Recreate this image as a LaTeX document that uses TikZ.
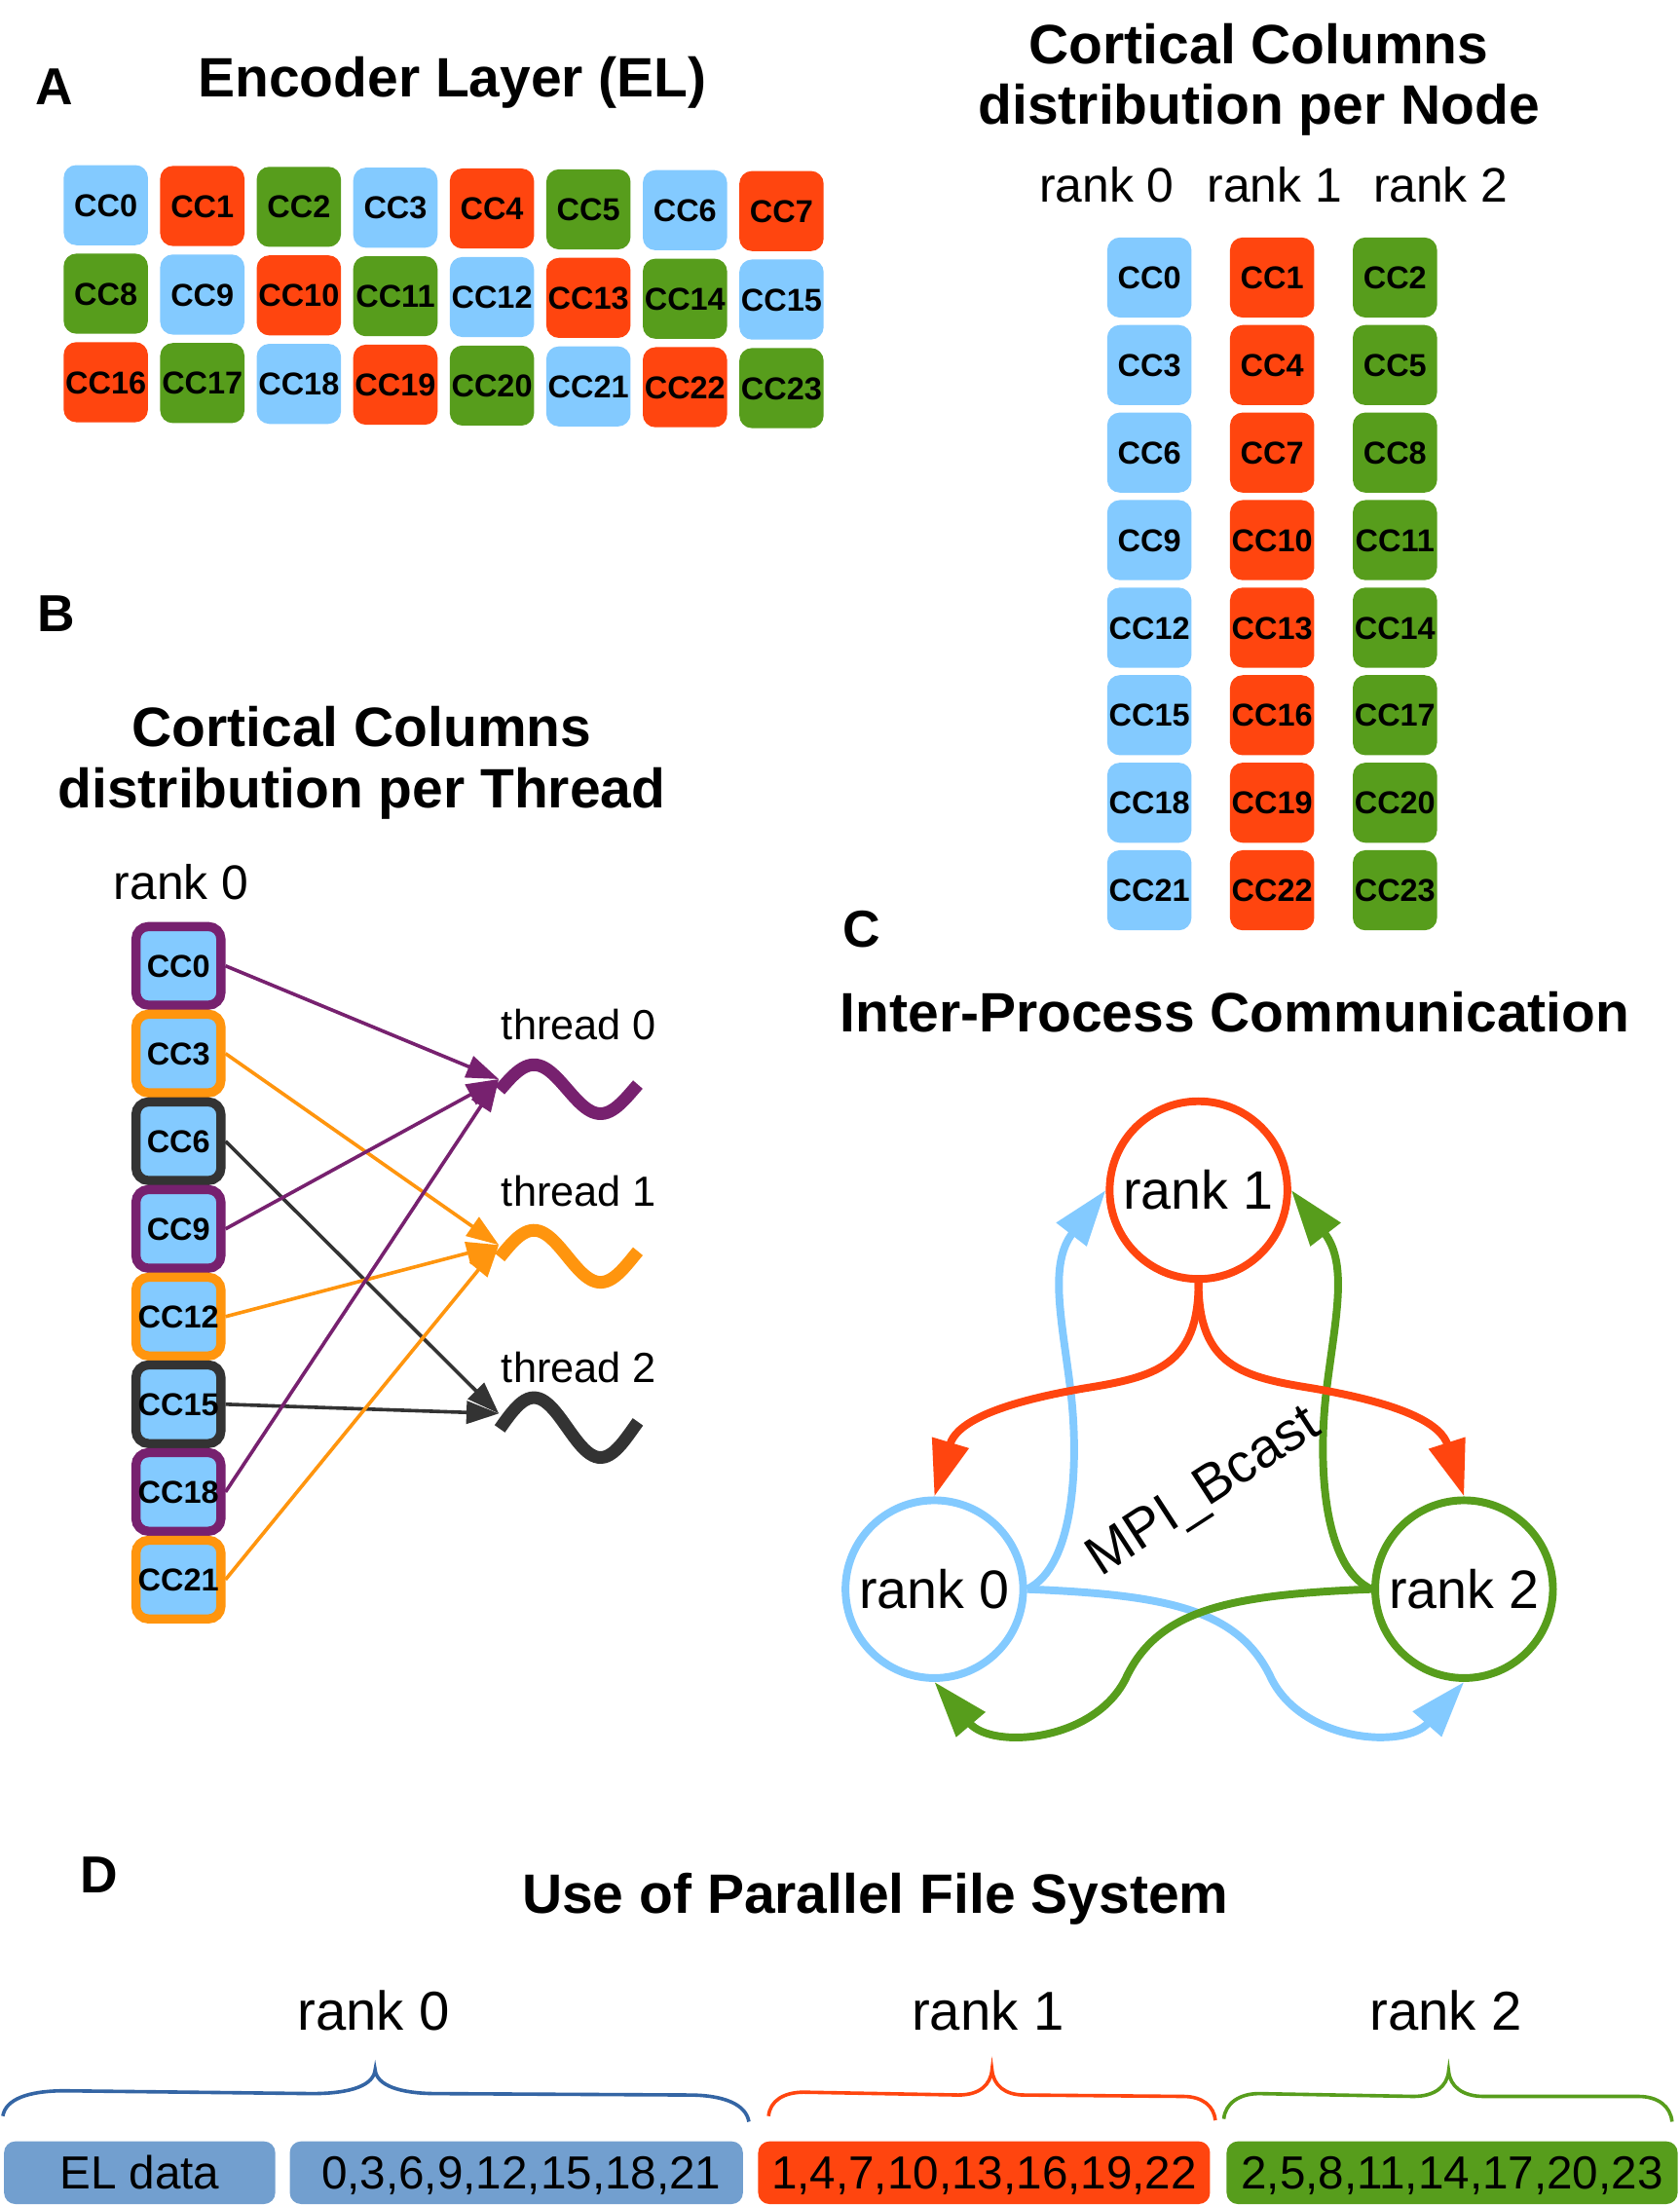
\documentclass[tikz,border=0pt]{standalone}
\usepackage{fontspec}
\setmainfont{Liberation Sans}
\usetikzlibrary{arrows.meta}
\definecolor{ccblue}{RGB}{131,202,255}
\definecolor{ccred}{RGB}{255,69,15}
\definecolor{ccgreen}{RGB}{87,157,28}
\colorlet{ccc0}{ccblue}
\colorlet{ccc1}{ccred}
\colorlet{ccc2}{ccgreen}
\definecolor{thpurple}{RGB}{119,33,111}
\definecolor{thorange}{RGB}{255,149,14}
\definecolor{thdark}{RGB}{51,51,51}
\definecolor{dblue}{RGB}{114,159,207}
\definecolor{bracebl}{RGB}{52,101,164}
\tikzset{
  ttl/.style={font=\fontsize{39.5}{44}\selectfont\bfseries, inner sep=0pt, text height=28.3pt, text depth=0pt},
  panel/.style={font=\fontsize{37}{42}\selectfont\bfseries, inner sep=0pt, text height=26.5pt, text depth=0pt},
  rk/.style={font=\fontsize{34.5}{40}\selectfont, inner sep=0pt, text height=24.7pt, text depth=0pt},
  rkd/.style={font=\fontsize{39}{44}\selectfont, inner sep=0pt, text height=27.9pt, text depth=0pt},
  thl/.style={font=\fontsize{30}{34}\selectfont, inner sep=0pt, text height=21.5pt, text depth=0pt},
  ccbox/.style={rounded corners=9pt, minimum width=60pt, minimum height=57pt, inner sep=0pt,
    font=\fontsize{22.5}{25}\selectfont\bfseries, text height=16.1pt, text depth=0pt},
  bbox/.style={rounded corners=9pt, minimum width=60.5pt, minimum height=56pt, inner sep=0pt,
    line width=6.5pt, fill=ccblue,
    font=\fontsize{22.5}{26}\selectfont\bfseries, text height=16.1pt, text depth=0pt},
  barrow/.style={line width=2.5pt, -{Triangle[length=23pt,width=16pt]}},
  wave/.style={line width=9pt},
  rcirc/.style={circle, line width=5.5pt, minimum size=126.5pt, inner sep=0pt,
    font=\fontsize{38.5}{44}\selectfont, text height=27.6pt, text depth=0pt},
  carrow/.style={line width=5.5pt, -{Triangle[length=40pt,width=26pt]}},
  dbox/.style={rounded corners=8pt, minimum height=44.6pt, inner sep=0pt,
    font=\fontsize{33}{38}\selectfont, text height=23.6pt, text depth=0pt},
  brc/.style={line width=2.5pt},
}
\begin{document}
\begin{tikzpicture}[x=1pt,y=-1pt]
\useasboundingbox (0,0) rectangle (1195,1569.3);
\fill[white] (0,0) rectangle (1195,1569.3);

% ---------- Panel A ----------
\node[panel] (la) at (39,61) {A};
\node[ttl] (tA) at (322,55) {Encoder Layer (EL)};
\foreach \i in {0,...,23} {
  \pgfmathtruncatemacro\cl{mod(\i,8)}
  \pgfmathtruncatemacro\rw{div(\i,8)}
  \pgfmathtruncatemacro\kk{mod(\i,3)}
  \node[ccbox, fill=ccc\kk] (a\i) at ({75.3+68.7*\cl},{146+63*\rw+0.6*\cl}) {CC\i};
}

% ---------- Node distribution ----------
\node[ttl] (tN1) at (896,31) {Cortical Columns};
\node[ttl] (tN2) at (896,74) {distribution per Node};
\node[rk] (nr0) at (787.6,131.6) {rank 0};
\node[rk] (nr1) at (907.2,131.6) {rank 1};
\node[rk] (nr2) at (1025.3,131.6) {rank 2};
\foreach \i in {0,...,23} {
  \pgfmathtruncatemacro\cl{mod(\i,3)}
  \pgfmathtruncatemacro\rw{div(\i,3)}
  \node[ccbox, fill=ccc\cl] (n\i) at ({818+87.4*\cl},{197.5+62.3*\rw}) {CC\i};
}

% ---------- Panel B ----------
\node[panel] (lb) at (40,436) {B};
\node[ttl] (tB1) at (257.5,517) {Cortical Columns};
\node[ttl] (tB2) at (257.5,561) {distribution per Thread};
\node[rk] (br) at (129,627.5) {rank 0};
\coordinate (t0) at (355,768);
\coordinate (t1) at (355,886);
\coordinate (t2) at (355,1006);
\foreach \cc/\bc [count=\j from 0] in {0/thpurple,3/thorange,6/thdark,9/thpurple,12/thorange,15/thdark,18/thpurple,21/thorange} {
  \node[bbox, draw=\bc] (b\cc) at (127,{687.4+62.4*\j}) {CC\cc};
}
\foreach \cc/\bc [count=\j from 0] in {0/thpurple,3/thorange,6/thdark,9/thpurple,12/thorange,15/thdark,18/thpurple,21/thorange} {
  \pgfmathtruncatemacro\th{mod(\j,3)}
  \draw[barrow, color=\bc] (b\cc.east) -- (t\th);
}
\foreach \wy/\amp/\col in {775.2/17.4/thpurple, 894.1/18.5/thorange, 1016/21.3/thdark} {
  \draw[wave, color=\col] plot[smooth, domain=355.7:454, samples=50] (\x,{\wy-\amp*sin((\x-356.3)*3.7975)});
}
\node[thl] (th0) at (412,729) {thread 0};
\node[thl] (th1) at (412,848) {thread 1};
\node[thl] (th2) at (412,973) {thread 2};

% ---------- Panel C ----------
\node[panel] (lc) at (613,661) {C};
\node[ttl] (tC) at (879,720) {Inter-Process Communication};
\node[rcirc, draw=ccred] (r1) at (853,847) {rank 1};
\node[rcirc, draw=ccblue] (r0) at (665,1131) {rank 0};
\node[rcirc, draw=ccgreen] (r2) at (1042,1131) {rank 2};
\draw[carrow, ccblue] (r0.east) .. controls (765,1115) and (768,1040) .. (762,990)
   .. controls (756,940) and (746,900) .. (r1.west);
\draw[carrow, ccblue] (r0.east) .. controls (830,1135) and (882,1145) .. (905,1195)
   .. controls (928,1240) and (1000,1245) .. (r2.south);
\draw[carrow, ccgreen] (r2.west) .. controls (941,1115) and (938,1040) .. (944,990)
   .. controls (950,940) and (960,900) .. (r1.east);
\draw[carrow, ccgreen] (r2.west) .. controls (876,1135) and (824,1145) .. (801,1195)
   .. controls (778,1240) and (706,1245) .. (r0.south);
\draw[carrow, ccred] (r1.south) .. controls (853,972) and (822,980) .. (772,988)
   .. controls (702,1000) and (680,1015) .. (r0.north);
\draw[carrow, ccred] (r1.south) .. controls (853,972) and (884,980) .. (934,988)
   .. controls (1004,1000) and (1026,1015) .. (r2.north);
\node[font=\fontsize{39}{44}\selectfont, inner sep=0pt, text height=27.9pt, text depth=0pt, rotate=33] (mpi) at (854.9,1059.3) {MPI\_Bcast};

% ---------- Panel D ----------
\node[panel] (ld) at (70.6,1334) {D};
\node[ttl] (tD) at (623,1347.5) {Use of Parallel File System};
\node[rkd] (dr0) at (266,1431) {rank 0};
\node[rkd] (dr1) at (703,1431) {rank 1};
\node[rkd] (dr2) at (1029,1431) {rank 2};
\draw[brc, bracebl] (2,1506) .. controls (4,1494) and (20,1488) .. (46,1488) -- (222,1490)
   .. controls (250,1490) and (266,1484) .. (267,1473) .. controls (268,1484) and (284,1490) .. (311,1490)
   -- (490,1491) .. controls (516,1491) and (531,1498) .. (533,1510);
\draw[brc, ccred] (547,1506) .. controls (548,1495) and (558,1489) .. (572,1489) -- (682,1491)
   .. controls (697,1491) and (705,1484) .. (706,1473) .. controls (707,1484) and (715,1491) .. (729,1491)
   -- (842,1492) .. controls (856,1492) and (864,1499) .. (865,1509);
\draw[brc, ccgreen] (871,1508) .. controls (872,1497) and (882,1490) .. (896,1490) -- (1006,1492)
   .. controls (1021,1492) and (1030,1485) .. (1031,1474) .. controls (1032,1485) and (1041,1492) .. (1056,1492)
   -- (1166,1492) .. controls (1180,1492) and (1189,1499) .. (1190,1510);
\node[dbox, fill=dblue, minimum width=193pt] (eld) at (99.4,1546.3) {EL data};
\node[dbox, fill=dblue, minimum width=322.5pt] (d0) at (367.5,1546.3) {\hspace{7pt}0,3,6,9,12,15,18,21};
\node[dbox, fill=ccred, minimum width=321.6pt] (d1) at (700.4,1546.3) {1,4,7,10,13,16,19,22};
\node[dbox, fill=ccgreen, minimum width=321pt] (d2) at (1033.5,1546.3) {2,5,8,11,14,17,20,23};
\end{tikzpicture}
\end{document}
